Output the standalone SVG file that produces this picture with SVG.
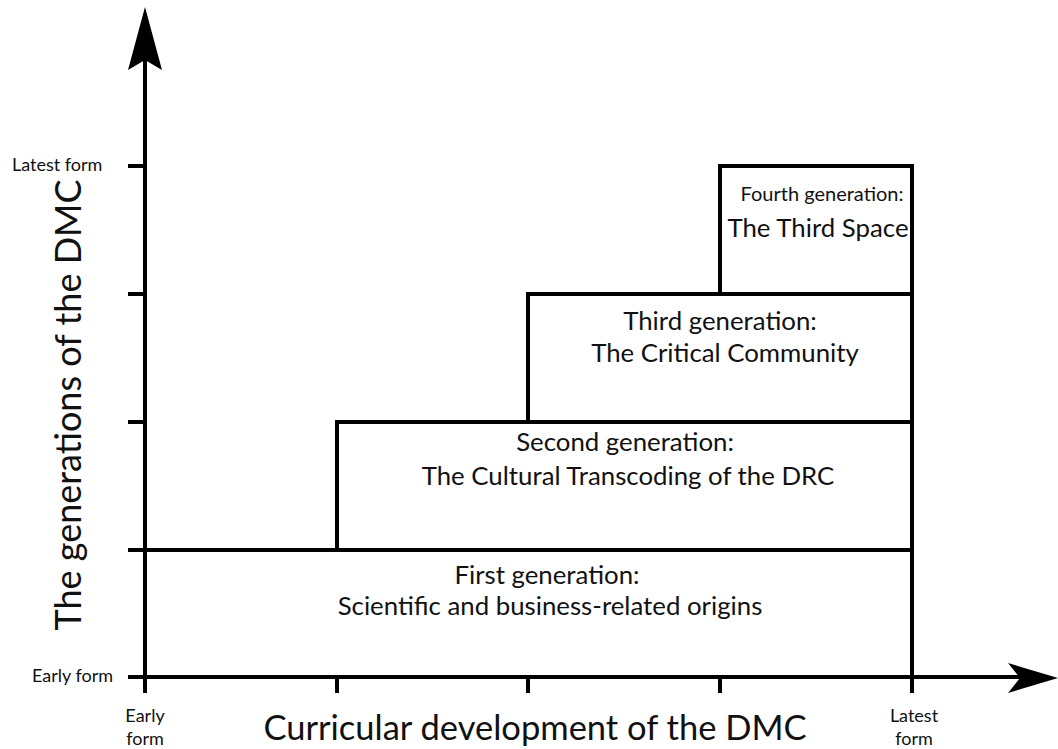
<svg xmlns="http://www.w3.org/2000/svg" width="1058" height="749" viewBox="0 0 1058 749">
<style>
.ln{stroke:#000;stroke-width:4;fill:none}
.bx{stroke:#000;stroke-width:4;fill:#fff}
text{font-family:Lato,"Open Sans","Liberation Sans",sans-serif;fill:#111}
.s{font-size:18px}
.m{font-size:25.8px;text-anchor:middle}
.sm{font-size:20px;text-anchor:middle}
.c{text-anchor:middle}
.big{font-size:34.5px}
.yl{font-size:36px}
</style>
<rect width="1058" height="749" fill="#fff"/>
<g id="axes">
<line class="ln" x1="145" y1="60" x2="145" y2="693"/>
<polygon points="145,7 162,70 145,60 128,70" fill="#000"/>
<line class="ln" x1="128" y1="677" x2="1020" y2="677"/>
<polygon points="1058,678 1008,693 1020,678 1008,663" fill="#000"/>
<line class="ln" x1="128" y1="166" x2="145" y2="166"/>
<line class="ln" x1="128" y1="294" x2="145" y2="294"/>
<line class="ln" x1="128" y1="422" x2="145" y2="422"/>
<line class="ln" x1="128" y1="550" x2="145" y2="550"/>
<line class="ln" x1="337" y1="677" x2="337" y2="693"/>
<line class="ln" x1="528" y1="677" x2="528" y2="693"/>
<line class="ln" x1="720" y1="677" x2="720" y2="693"/>
<line class="ln" x1="912" y1="677" x2="912" y2="693"/>
</g>
<g id="gen1">
<rect class="bx" x="145" y="550" width="767" height="127"/>
<text class="m" x="547" y="584">First generation:</text>
<text class="m" x="550" y="615">Scientific and business-related origins</text>
</g>
<g id="gen2">
<rect class="bx" x="337" y="422" width="575" height="128"/>
<text class="m" x="625" y="451">Second generation:</text>
<text class="m" x="628" y="485">The Cultural Transcoding of the DRC</text>
</g>
<g id="gen3">
<rect class="bx" x="528" y="294" width="384" height="128"/>
<text class="m" x="720" y="330">Third generation:</text>
<text class="m" x="725" y="362">The Critical Community</text>
</g>
<g id="gen4">
<rect class="bx" x="720" y="166" width="192" height="128"/>
<text class="sm" x="822" y="201">Fourth generation:</text>
<text class="m" x="818" y="237">The Third Space</text>
</g>
<g id="labels">
<text class="s" x="12" y="171">Latest form</text>
<text class="s" x="32" y="682">Early form</text>
<text class="s c" x="145" y="722">Early</text>
<text class="s c" x="145" y="745">form</text>
<text class="s c" x="914" y="722">Latest</text>
<text class="s c" x="914" y="745">form</text>
<text class="big c" x="535" y="740">Curricular development of the DMC</text>
<text class="yl c" transform="translate(81,405) rotate(-90)">The generations of the DMC</text>
</g>
</svg>
